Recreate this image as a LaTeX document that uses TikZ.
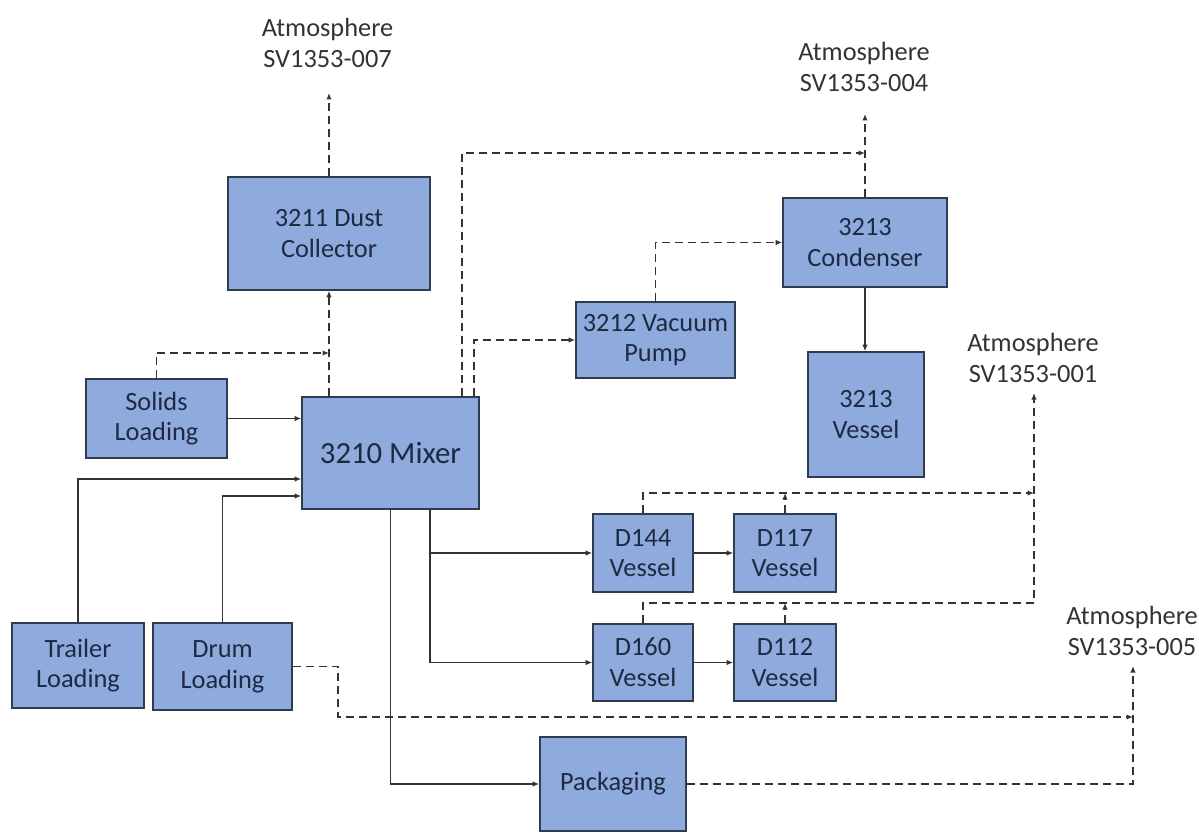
\documentclass[tikz,border=0pt]{standalone}
\usepackage{fontspec}
\setmainfont{Carlito}
\usepackage{tikz}
\usetikzlibrary{positioning,arrows.meta}
\definecolor{unitfill}{HTML}{8FAADC}
\definecolor{unitline}{HTML}{2F3B4F}
\definecolor{unittext}{HTML}{1C2A42}
\definecolor{pipe}{HTML}{333333}

\begin{document}
\begin{tikzpicture}[x=0.2mm, y=-0.2mm,
    font=\fontsize{15}{17.5}\selectfont,
    unit/.style={draw=unitline, line width=0.9pt, fill=unitfill, text=unittext, align=center, inner sep=1pt},
    sz/.style 2 args={minimum width=#1*0.2mm, minimum height=#2*0.2mm},
    atm/.style={align=center, text=black!80, inner sep=0pt},
    flow/.style={draw=pipe, line width=0.9pt, -{Latex[length=1.3mm,width=1.1mm]}},
    vent/.style={flow, dash pattern=on 1.6mm off 1mm}]
    \useasboundingbox (0,0) rectangle (1199,834);

    % process units, placed at their centres
    \node[unit, sz={202}{113}] (dust) at (329,233.5) {3211 Dust\\Collector};
    \node[unit, sz={141}{79}] (solids) at (156.5,418.5) {Solids\\Loading};
    \node[unit, sz={177}{112}, font=\fontsize{17.5}{21}\selectfont] (mixer) at (390.5,453) {3210 Mixer};
    \node[unit, sz={159}{76}] (vac) at (655.5,340) {3212 Vacuum\\Pump};
    \node[unit, sz={164}{89}] (cond) at (865,242.5) {3213\\Condenser};
    \node[unit, sz={116}{125}] (vessel) at (866,414.5) {3213\\Vessel};
    \node[unit, sz={100}{78}] (d144) at (643,553) {D144\\Vessel};
    \node[unit, sz={102}{78}] (d117) at (785,553) {D117\\Vessel};
    \node[unit, sz={100}{77}] (d160) at (643,662.5) {D160\\Vessel};
    \node[unit, sz={102}{77}] (d112) at (785,662.5) {D112\\Vessel};
    \node[unit, sz={132}{85}] (trailer) at (78,665.5) {Trailer\\Loading};
    \node[unit, sz={139}{87}] (drum) at (222.5,666.5) {Drum\\Loading};
    \node[unit, sz={146}{94}] (pack) at (613,784) {Packaging};

    % stacks
    \node[atm] (atm7) at (327.5,43) {Atmosphere\\SV1353-007};
    \node[atm] (atm4) at (864,67) {Atmosphere\\SV1353-004};
    \node[atm] (atm1) at (1033,358) {Atmosphere\\SV1353-001};
    \node[atm] (atm5) at (1132,631) {Atmosphere\\SV1353-005};
    \coordinate (tip7) at (329,93);
    \coordinate (tip4) at (865,114);
    \coordinate (tip1) at (1034,393);
    \coordinate (tip5) at (1133,666);
    \coordinate (jn1) at (329,353);
    \coordinate (jn2) at (865,153);
    \coordinate (jn3) at (1034,493);
    \coordinate (jn4) at (1034,603);
    \coordinate (jn5) at (1133,717);

    % vents (dashed)
    \draw[vent] (dust.north) -- (tip7);
    \draw[vent] (mixer.north -| dust.south) -- (dust.south);
    \draw[vent] (solids.north) |- (jn1);
    \draw[vent] (462,0 |- mixer.north) |- (jn2);
    \draw[vent] (474,0 |- mixer.north) |- (vac.west);
    \draw[vent] (vac.north) |- (cond.west);
    \draw[vent] (cond.north) -- (tip4);
    \draw[vent] (d144.north) |- (jn3);
    \draw[vent] (d117.north) -- (d117.north |- jn3);
    \draw[vent] (d160.north) |- (jn4) -- (tip1);
    \draw[vent] (d112.north) -- (d112.north |- jn4);
    \draw[vent] (drum.east) -- (338,0 |- drum.east) |- (jn5);
    \draw[vent] (pack.east) -| (tip5);

    % material flow (solid)
    \draw[flow] (cond.south) -- (cond.south |- vessel.north);
    \draw[flow] (solids.east) -- (solids.east -| mixer.west);
    \draw[flow] (trailer.north) |- (mixer.west |- 0,479);
    \draw[flow] (drum.north) |- (mixer.west |- 0,496);
    \draw[flow] (mixer.south) |- (pack.west);
    \draw[flow] (430,0 |- mixer.south) |- (d144.west);
    \draw[flow] (430,0 |- mixer.south) |- (d160.west);
    \draw[flow] (d144) -- (d117);
    \draw[flow] (d160) -- (d112);
\end{tikzpicture}
\end{document}
